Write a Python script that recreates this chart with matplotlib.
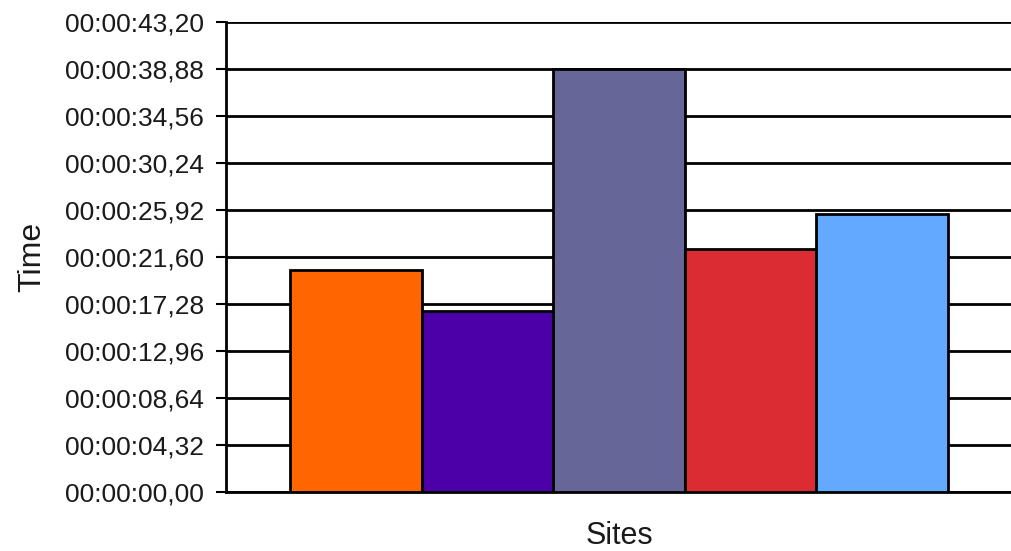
import matplotlib.pyplot as plt
from matplotlib.ticker import FuncFormatter

plt.rcParams['font.family'] = ['Liberation Sans', 'DejaVu Sans']

# bar values in seconds
sites = ['Site 1', 'Site 2', 'Site 3', 'Site 4', 'Site 5']
times = [20.43, 16.64, 38.9, 22.33, 25.52]
colors = ['#ff6600', '#4b00a8', '#666699', '#dc2c33', '#63a9ff']
tick_values = [i * 4.32 for i in range(11)]


def fmt_time(v, pos):
    secs = int(v + 1e-9)
    cent = int(round((v - secs) * 100))
    return "00:00:%02d,%02d" % (secs, cent)


fig = plt.figure(figsize=(10.12, 5.51), dpi=100)
ax = fig.add_axes([0.2233, 0.1071, 0.7767, 0.853])

ax.bar(range(len(times)), times, width=1.0, color=colors,
       edgecolor='black', linewidth=2, zorder=3)

ax.set_ylim(0, 43.2)
ax.set_xlim(-0.987, 4.987)
ax.set_yticks(tick_values)
ax.yaxis.set_major_formatter(FuncFormatter(fmt_time))
ax.yaxis.grid(True, color='black', linewidth=2, zorder=0)
ax.set_xticks([])

for s in ['top', 'right']:
    ax.spines[s].set_visible(False)
ax.spines['left'].set_linewidth(2)
ax.spines['bottom'].set_linewidth(2)

ax.tick_params(axis='y', length=7, width=1.5, pad=9, labelsize=19,
               labelcolor='#1a1a1a')

ax.set_ylabel("Time", fontsize=23, color='#1a1a1a')
ax.set_xlabel("Sites", fontsize=22, color='#1a1a1a')
ax.yaxis.set_label_coords(-0.227, 0.5)
ax.xaxis.set_label_coords(0.5, -0.062)

plt.savefig("out.png", dpi=100)
